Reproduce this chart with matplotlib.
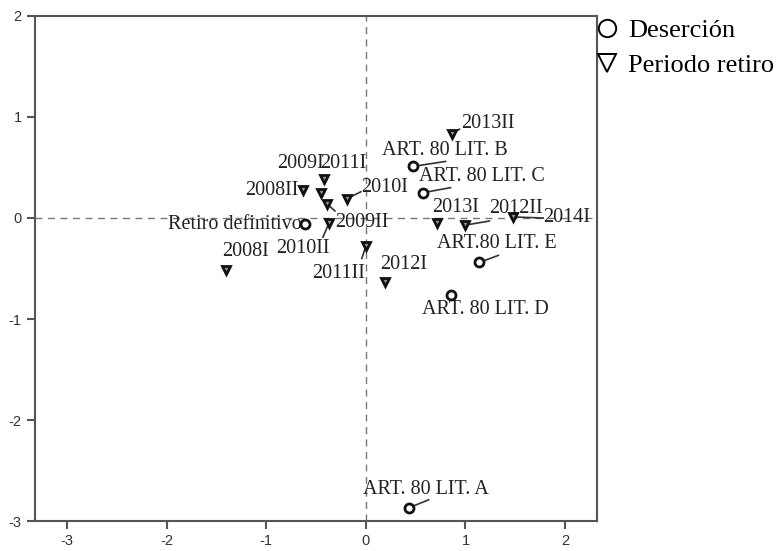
import matplotlib
matplotlib.use("Agg")
import matplotlib.pyplot as plt
from matplotlib.lines import Line2D

plt.rcParams["axes.unicode_minus"] = False

# Deserción categories (circles)
des_labels = ["Retiro definitivo", "ART. 80 LIT. B", "ART. 80 LIT. C", "ART.80 LIT. E",
              "ART. 80 LIT. D", "ART. 80 LIT. A"]
des_x = [-0.61, 0.47, 0.57, 1.14, 0.85, 0.43]
des_y = [-0.06, 0.51, 0.25, -0.44, -0.76, -2.87]

# Periodo retiro categories (triangles)
per_labels = ["2008I", "2008II", "2009I", "2009II", "2010I", "2010II", "2011I", "2011II",
              "2012I", "2012II", "2013I", "2013II", "2014I"]
per_x = [-1.40, -0.63, -0.45, -0.39, -0.19, -0.37, -0.42, 0.00, 0.19, 1.00, 0.71, 0.86, 1.48]
per_y = [-0.51, 0.28, 0.25, 0.14, 0.19, -0.05, 0.39, -0.28, -0.63, -0.07, -0.05, 0.83, 0.01]

x_ticks = [-3, -2, -1, 0, 1, 2]
y_ticks = [-3, -2, -1, 0, 1, 2]

# label placement: (x, y, ha)
label_pos = {
    "Retiro definitivo": (-0.64, -0.06, "right"),
    "ART. 80 LIT. B": (0.16, 0.67, "left"),
    "ART. 80 LIT. C": (0.53, 0.41, "left"),
    "ART.80 LIT. E": (0.71, -0.25, "left"),
    "ART. 80 LIT. D": (0.56, -0.91, "left"),
    "ART. 80 LIT. A": (-0.03, -2.69, "left"),
    "2008I": (-1.44, -0.33, "left"),
    "2008II": (-0.68, 0.27, "right"),
    "2009I": (-0.89, 0.54, "left"),
    "2009II": (-0.31, -0.04, "left"),
    "2010I": (-0.05, 0.30, "left"),
    "2010II": (-0.90, -0.30, "left"),
    "2011I": (-0.46, 0.54, "left"),
    "2011II": (-0.54, -0.55, "left"),
    "2012I": (0.14, -0.46, "left"),
    "2012II": (1.24, 0.09, "left"),
    "2013I": (0.67, 0.10, "left"),
    "2013II": (0.96, 0.94, "left"),
    "2014I": (1.78, 0.00, "left"),
}
# leader line end points for labelled points that have one
leader_end = {
    "ART. 80 LIT. B": (0.80, 0.56),
    "ART. 80 LIT. C": (0.85, 0.30),
    "ART.80 LIT. E": (1.33, -0.37),
    "ART. 80 LIT. A": (0.63, -2.79),
    "2013II": (0.94, 0.88),
    "2010I": (-0.05, 0.26),
    "2012II": (1.24, -0.03),
    "2014I": (1.78, 0.00),
    "2011II": (-0.04, -0.40),
    "2010II": (-0.43, -0.19),
    "2009II": (-0.31, 0.07),
}

fig = plt.figure(figsize=(7.81, 5.51), dpi=100)
ax = fig.add_axes([0.0448, 0.0544, 0.7196, 0.9166])
ax.set_xlim(-3.32, 2.32)
ax.set_ylim(-3.0, 2.0)

ax.axhline(0, color="#777777", lw=1.0, ls=(0, (5, 4)), zorder=1)
ax.axvline(0, color="#777777", lw=1.0, ls=(0, (5, 4)), zorder=1)

ax.plot(des_x, des_y, ls="none", marker="o", ms=6.5, mfc="white", mec="#111111", mew=2.0, zorder=3)
ax.plot(per_x, per_y, ls="none", marker="v", ms=6, mfc="#999999", mec="#111111", mew=2.0, zorder=3)

tfont = dict(family="Liberation Serif", size=14.5, color="#222222")
for labs, xs, ys in [(des_labels, des_x, des_y), (per_labels, per_x, per_y)]:
    for lab, x, y in zip(labs, xs, ys):
        tx, ty, ha = label_pos[lab]
        ax.text(tx, ty, lab, ha=ha, va="center", zorder=2, **tfont)
        if lab in leader_end:
            ex, ey = leader_end[lab]
            ax.plot([x, ex], [y, ey], color="#333333", lw=1.2, zorder=2)

for s in ax.spines.values():
    s.set_color("#555555")
    s.set_linewidth(1.5)
ax.set_xticks(x_ticks)
ax.set_yticks(y_ticks)
ax.tick_params(direction="out", length=6, width=1.5, color="#555555",
               labelsize=10.5, labelcolor="#333333")
for lbl in ax.get_xticklabels() + ax.get_yticklabels():
    lbl.set_family("Liberation Sans")

handles = [Line2D([], [], ls="none", marker="o", ms=12.5, mfc="white", mec="black", mew=1.4),
           Line2D([], [], ls="none", marker="v", ms=12.5, mfc="white", mec="black", mew=1.4)]
fig.legend(handles, ["Deserción", "Periodo retiro"], loc="upper left",
           bbox_to_anchor=(0.743, 1.0), frameon=False, handlelength=0.6,
           handletextpad=0.5, borderpad=0.2, labelspacing=0.45,
           prop=dict(family="Liberation Serif", size=19))

fig.savefig("out.png", dpi=100)
